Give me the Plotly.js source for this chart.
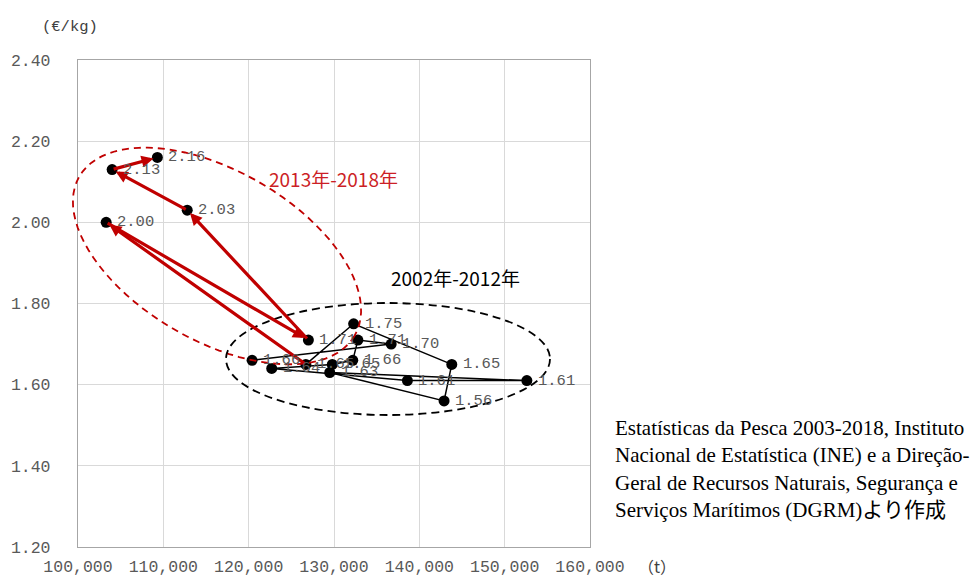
<!DOCTYPE html>
<html>
<head>
<meta charset="utf-8">
<script src="https://cdn.plot.ly/plotly-3.0.1.min.js"></script>
<style>html,body{margin:0;padding:0;background:#fff;}#chart{width:974px;height:577px;}</style>
</head>
<body>
<div id="chart"></div>
<script>
// 2002-2012 path (black), ending at the first red point
const blackX = [120400, 136700, 132800, 132200, 129800, 122700, 138600, 152600, 129500, 142900, 143800, 132300, 126700];
const blackY = [1.66, 1.70, 1.71, 1.66, 1.65, 1.64, 1.61, 1.61, 1.63, 1.56, 1.65, 1.75, 1.65];
// 2013-2018 path (red arrows)
const redX = [126700, 103300, 127000, 112800, 104000, 109300];
const redY = [1.65, 2.00, 1.71, 2.03, 2.13, 2.16];

const xTicks = [100000, 110000, 120000, 130000, 140000, 150000, 160000];
const yTicks = [1.20, 1.40, 1.60, 1.80, 2.00, 2.20, 2.40];

const MONO = 'Liberation Mono, Noto Sans CJK JP, monospace';
const RED = '#C00000';

// plot area geometry in pixels (for decorative ellipses)
const L = 78, T = 60, W = 512, H = 487;
const toPX = (px) => (px - L) / W;
const toPY = (py) => (T + H - py) / H;

function ellipsePath(cx, cy, a, b, deg) {
  const th = deg * Math.PI / 180;
  let d = '';
  const n = 90;
  for (let i = 0; i <= n; i++) {
    const t = 2 * Math.PI * i / n;
    const px = cx + a * Math.cos(t) * Math.cos(th) - b * Math.sin(t) * Math.sin(th);
    const py = cy + a * Math.cos(t) * Math.sin(th) + b * Math.sin(t) * Math.cos(th);
    d += (i === 0 ? 'M' : 'L') + toPX(px).toFixed(5) + ',' + toPY(py).toFixed(5);
  }
  return d + 'Z';
}

const traces = [
  {
    x: blackX, y: blackY, type: 'scatter', mode: 'lines',
    line: {color: '#000', width: 1.5}, hoverinfo: 'skip', showlegend: false
  },
  {
    x: blackX.concat(redX.slice(1)), y: blackY.concat(redY.slice(1)),
    type: 'scatter', mode: 'markers',
    marker: {color: '#000', size: 11}, hoverinfo: 'skip', showlegend: false
  }
];

const annotations = [];
// red arrows
for (let i = 1; i < redX.length; i++) {
  annotations.push({
    x: redX[i], y: redY[i], ax: redX[i - 1], ay: redY[i - 1],
    xref: 'x', yref: 'y', axref: 'x', ayref: 'y',
    text: '', showarrow: true, arrowhead: 2, arrowsize: 0.75, arrowwidth: 3.2,
    arrowcolor: RED, standoff: 4
  });
}
// value labels
const allX = blackX.concat(redX.slice(1));
const allY = blackY.concat(redY.slice(1));
for (let i = 0; i < allX.length; i++) {
  annotations.push({
    x: allX[i], y: allY[i], xref: 'x', yref: 'y',
    text: allY[i].toFixed(2), showarrow: false,
    xanchor: 'left', yanchor: 'middle', xshift: 9,
    font: {family: MONO, size: 15.5, color: '#595959'}
  });
}
// group labels
annotations.push({
  xref: 'paper', yref: 'paper', x: toPX(333), y: toPY(178),
  text: '2013年-2018年', showarrow: false, xanchor: 'center', yanchor: 'middle',
  font: {family: 'Noto Sans CJK JP', size: 19, color: '#CC1F26'}
});
annotations.push({
  xref: 'paper', yref: 'paper', x: toPX(455), y: toPY(277),
  text: '2002年-2012年', showarrow: false, xanchor: 'center', yanchor: 'middle',
  font: {family: 'Noto Sans CJK JP', size: 19, color: '#000'}
});
// units
annotations.push({
  xref: 'paper', yref: 'paper', x: toPX(70), y: toPY(27),
  text: '(€/kg)', showarrow: false, xanchor: 'center', yanchor: 'middle',
  font: {family: MONO, size: 15.5, color: '#404040'}
});
annotations.push({
  xref: 'paper', yref: 'paper', x: toPX(657), y: toPY(566),
  text: '（t）', showarrow: false, xanchor: 'center', yanchor: 'middle',
  font: {family: 'Noto Sans CJK JP', size: 16, color: '#404040'}
});
// source
annotations.push({
  xref: 'paper', yref: 'paper', x: toPX(613), y: toPY(469),
  text: 'Estatísticas da Pesca 2003-2018, Instituto<br>Nacional de Estatística (INE) e a Direção-<br>Geral de Recursos Naturais, Segurança e<br>Serviços Marítimos (DGRM)より作成',
  showarrow: false, xanchor: 'left', yanchor: 'middle', align: 'left',
  font: {family: 'Liberation Serif, Noto Sans CJK JP', size: 21, color: '#000'}
});

const shapes = [
  {
    type: 'path', xref: 'paper', yref: 'paper',
    path: ellipsePath(217, 256, 159, 85, 30),
    line: {color: RED, width: 1.8, dash: '7px,5px'}
  },
  {
    type: 'circle', xref: 'paper', yref: 'paper',
    x0: toPX(226), x1: toPX(550), y0: toPY(415), y1: toPY(303),
    line: {color: '#000', width: 1.8, dash: '8px,5px'}
  }
];

const layout = {
  width: 974, height: 577,
  margin: {l: L, r: 974 - L - W, t: T, b: 577 - T - H, pad: 0},
  paper_bgcolor: '#fff', plot_bgcolor: '#fff',
  showlegend: false,
  font: {family: MONO, color: '#595959', size: 16},
  xaxis: {
    range: [100000, 160000], tickvals: xTicks, tickformat: ',d',
    showgrid: true, gridcolor: '#d9d9d9', gridwidth: 1,
    showline: true, linecolor: '#a6a6a6', linewidth: 1.2, mirror: true,
    zeroline: false, ticks: '', ticklabelstandoff: 4,
    tickfont: {family: MONO, size: 16.5, color: '#595959'}
  },
  yaxis: {
    range: [1.2, 2.4], tickvals: yTicks, tickformat: '.2f',
    showgrid: true, gridcolor: '#d9d9d9', gridwidth: 1,
    showline: true, linecolor: '#a6a6a6', linewidth: 1.2, mirror: true,
    zeroline: false, ticks: '', ticklabelstandoff: 23,
    tickfont: {family: MONO, size: 16.5, color: '#595959'}
  },
  annotations: annotations,
  shapes: shapes
};

Plotly.newPlot('chart', traces, layout, {displayModeBar: false, staticPlot: true});
</script>
</body>
</html>
